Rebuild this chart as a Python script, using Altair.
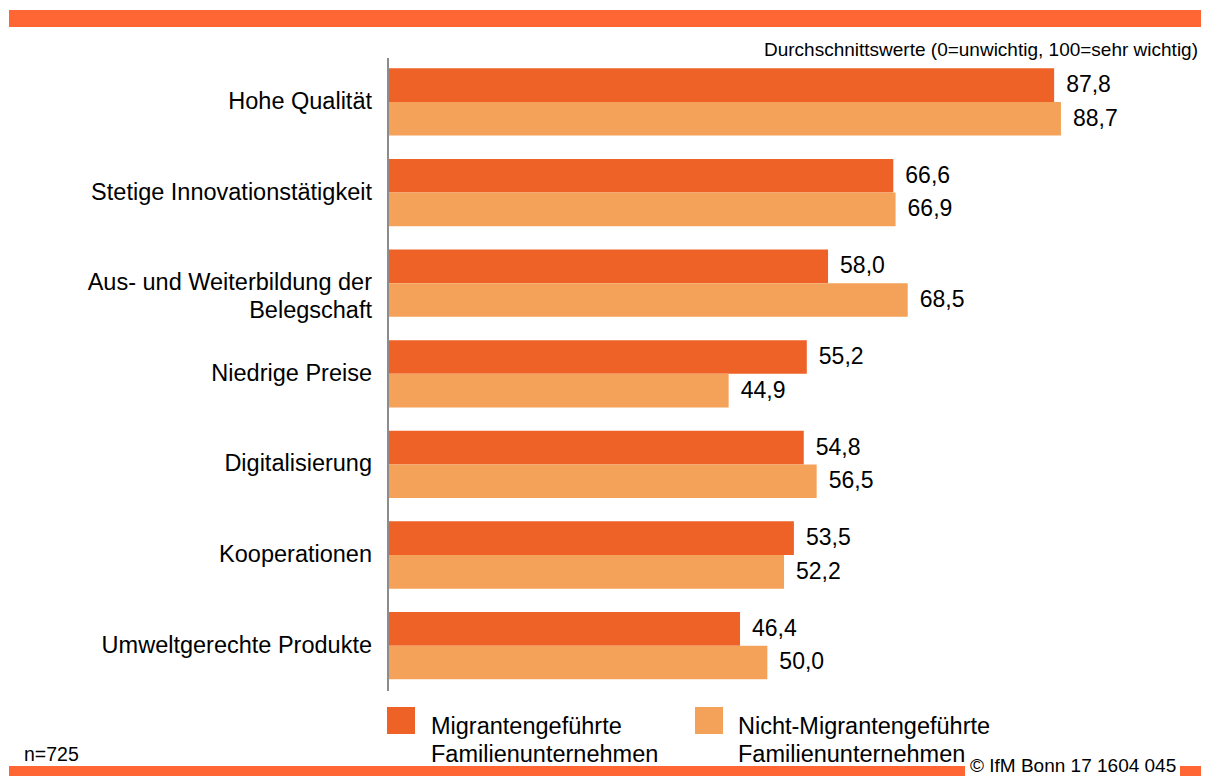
import altair as alt
import pandas as pd

# ---- data ----
categories = [
    "Hohe Qualität",
    "Stetige Innovationstätigkeit",
    "Aus- und Weiterbildung der\nBelegschaft",
    "Niedrige Preise",
    "Digitalisierung",
    "Kooperationen",
    "Umweltgerechte Produkte",
]
migrant = [87.8, 66.6, 58.0, 55.2, 54.8, 53.5, 46.4]
non_migrant = [88.7, 66.9, 68.5, 44.9, 56.5, 52.2, 50.0]
series = ["Migrantengeführte Familienunternehmen", "Nicht-Migrantengeführte Familienunternehmen"]
legend_labels = ["Migrantengeführte\nFamilienunternehmen", "Nicht-Migrantengeführte\nFamilienunternehmen"]
subtitle = "Durchschnittswerte (0=unwichtig, 100=sehr wichtig)"
note = "n=725"
source = "© IfM Bonn 17 1604 045"

DARK = "#EE6228"
LIGHT = "#F4A259"
BAND = "#FF6633"
FONT = "Liberation Sans"

rows = []
for c, a, b in zip(categories, migrant, non_migrant):
    rows.append({"category": c, "series": series[0], "value": a})
    rows.append({"category": c, "series": series[1], "value": b})
df = pd.DataFrame(rows)
cat_df = pd.DataFrame({"category": categories})
one = pd.DataFrame({"k": [0]})

xscale = alt.Scale(domain=[0, 100], range=[380, 1138.7])
yscale = alt.Scale(domain=categories, range=[48.65, 682.95], paddingInner=0.257, paddingOuter=0.1285)
cscale = alt.Scale(domain=series, range=[DARK, LIGHT])
oscale = alt.Scale(domain=series, paddingInner=0, paddingOuter=0)

bars = alt.Chart(df).mark_bar(cornerRadius=0).encode(
    x=alt.X("value:Q", scale=xscale, axis=None),
    y=alt.Y("category:N", scale=yscale, sort=categories, axis=None),
    yOffset=alt.YOffset("series:N", sort=series, scale=oscale),
    color=alt.Color("series:N", scale=cscale, legend=None),
)

values = alt.Chart(df).transform_calculate(
    label="replace(format(datum.value, '.1f'), '.', ',')"
).mark_text(align="left", baseline="middle", dx=12, font=FONT, fontSize=23, color="#000000").encode(
    x=alt.X("value:Q", scale=xscale, axis=None),
    y=alt.Y("category:N", scale=yscale, sort=categories, axis=None),
    yOffset=alt.YOffset("series:N", sort=series, scale=oscale),
    text="label:N",
)

cat_labels = alt.Chart(cat_df).mark_text(
    align="right", baseline="middle", font=FONT, fontSize=23.5, lineBreak="\n", lineHeight=28, color="#000000"
).encode(
    x=alt.value(364),
    y=alt.Y("category:N", scale=yscale, sort=categories, axis=None),
    text="category:N",
)

axis_line = alt.Chart(one).mark_rule(color="#8C8C8C", strokeWidth=2).encode(
    x=alt.datum(0), y=alt.value(50), y2=alt.value(683)
)

top_band = alt.Chart(one).mark_rect(color=BAND).encode(
    x=alt.value(1), x2=alt.value(1193), y=alt.value(2), y2=alt.value(19)
)
bottom_band = alt.Chart(one).mark_rect(color=BAND).encode(
    x=alt.value(1), x2=alt.value(957), y=alt.value(758), y2=alt.value(768)
)
bottom_seg = alt.Chart(one).mark_rect(color=BAND).encode(
    x=alt.value(1172), x2=alt.value(1193), y=alt.value(758), y2=alt.value(768)
)

sub = alt.Chart(one).mark_text(align="right", baseline="middle", font=FONT, fontSize=19, color="#000000").encode(
    x=alt.value(1190), y=alt.value(42), text=alt.value(subtitle)
)
n_txt = alt.Chart(one).mark_text(align="left", baseline="middle", font=FONT, fontSize=19.5, color="#000000").encode(
    x=alt.value(16), y=alt.value(747), text=alt.value(note)
)
src_txt = alt.Chart(one).mark_text(align="left", baseline="bottom", font=FONT, fontSize=19, color="#000000").encode(
    x=alt.value(962), y=alt.value(768), text=alt.value(source)
)

leg_sq1 = alt.Chart(one).mark_rect(color=DARK).encode(
    x=alt.value(379), x2=alt.value(407), y=alt.value(699), y2=alt.value(726)
)
leg_sq2 = alt.Chart(one).mark_rect(color=LIGHT).encode(
    x=alt.value(687), x2=alt.value(715), y=alt.value(699), y2=alt.value(726)
)
leg_t1 = alt.Chart(one).mark_text(
    align="left", baseline="alphabetic", font=FONT, fontSize=23.5, lineBreak="\n", lineHeight=28, color="#000000"
).encode(x=alt.value(423), y=alt.value(726), text=alt.value(legend_labels[0]))
leg_t2 = alt.Chart(one).mark_text(
    align="left", baseline="alphabetic", font=FONT, fontSize=23.5, lineBreak="\n", lineHeight=28, color="#000000"
).encode(x=alt.value(730), y=alt.value(726), text=alt.value(legend_labels[1]))

chart = alt.layer(
    top_band, bottom_band, bottom_seg, bars, values, cat_labels, axis_line,
    sub, n_txt, src_txt, leg_sq1, leg_sq2, leg_t1, leg_t2,
).properties(
    width=1193, height=768, autosize=alt.AutoSizeParams(type="none"), padding=0, background="white"
).configure_view(strokeWidth=0)

chart.save("out.html", embed_options={"renderer": "svg", "actions": False})
